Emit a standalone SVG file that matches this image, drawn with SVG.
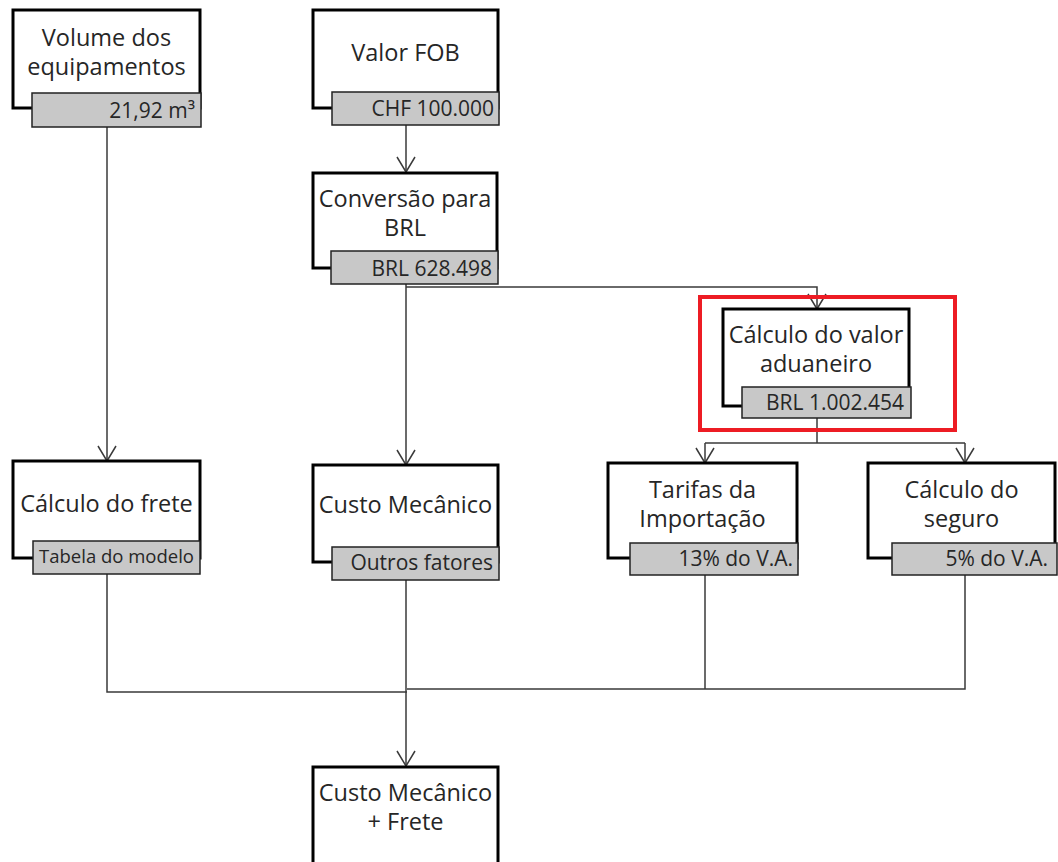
<svg xmlns="http://www.w3.org/2000/svg" width="1058" height="862" viewBox="0 0 1058 862">
<defs>
<style>
.box{fill:#fff;stroke:#000;stroke-width:3}
.tag{fill:#c8c8c8;stroke:#222;stroke-width:1.5}
.t{font-family:"Open Sans","Liberation Sans",sans-serif;font-size:23.5px;fill:#262626;text-anchor:middle}
.v{font-family:"Open Sans","Liberation Sans",sans-serif;font-size:21px;fill:#262626;text-anchor:end}
.s{font-size:18.5px}
.c{fill:none;stroke:#3a3a3a;stroke-width:1.5}
</style>
</defs>
<rect width="1058" height="862" fill="#fff"/>
<g id="connectors">
<path class="c" d="M406,125 V172"/>
<path class="c" d="M107,127 V461"/>
<path class="c" d="M406,284 V465"/>
<path class="c" d="M406,287 H817 V309"/>
<path class="c" d="M817,418 V443"/>
<path class="c" d="M705,443 H965"/>
<path class="c" d="M705,443 V463"/>
<path class="c" d="M965,443 V463"/>
<path class="c" d="M107,574 V692 H407"/>
<path class="c" d="M406,580 V766"/>
<path class="c" d="M705,575 V689"/>
<path class="c" d="M965,575 V689 H407"/>
<g class="c">
<path d="M397,157 L406,172 L415,157"/>
<path d="M98,446 L107,461 L116,446"/>
<path d="M397,450 L406,465 L415,450"/>
<path d="M808,294 L817,309 L826,294"/>
<path d="M696,448 L705,463 L714,448"/>
<path d="M956,448 L965,463 L974,448"/>
<path d="M397,751 L406,766 L415,751"/>
</g>
</g>
<g id="n-volume">
<rect class="box" x="13" y="10" width="187" height="98"/>
<text class="t" x="106.5" y="46">Volume dos</text>
<text class="t" x="106.5" y="75">equipamentos</text>
<rect class="tag" x="32" y="93" width="169" height="34"/>
<text class="v" x="195" y="118">21,92 m³</text>
</g>
<g id="n-fob">
<rect class="box" x="313" y="10" width="185" height="98"/>
<text class="t" x="405.5" y="61">Valor FOB</text>
<rect class="tag" x="332" y="92" width="167" height="33"/>
<text class="v" x="494" y="116">CHF 100.000</text>
</g>
<g id="n-conv">
<rect class="box" x="313" y="173" width="184" height="95"/>
<text class="t" x="405" y="207">Conversão para</text>
<text class="t" x="405" y="236">BRL</text>
<rect class="tag" x="331" y="251" width="167" height="33"/>
<text class="v" x="492" y="276">BRL 628.498</text>
</g>
<g id="n-valor">
<rect x="700" y="297" width="255" height="133" fill="none" stroke="#ed1c24" stroke-width="4"/>
<rect class="box" x="723" y="309" width="186" height="97"/>
<text class="t" x="816" y="343">Cálculo do valor</text>
<text class="t" x="816" y="372">aduaneiro</text>
<rect class="tag" x="742" y="387" width="169" height="31"/>
<text class="v" x="904" y="410">BRL 1.002.454</text>
</g>
<g id="n-frete">
<rect class="box" x="13" y="461" width="187" height="97"/>
<text class="t" x="106.5" y="512">Cálculo do frete</text>
<rect class="tag" x="33" y="541" width="167" height="33"/>
<text class="v s" x="194" y="563">Tabela do modelo</text>
</g>
<g id="n-custo">
<rect class="box" x="313" y="465" width="185" height="97"/>
<text class="t" x="405.5" y="513">Custo Mecânico</text>
<rect class="tag" x="332" y="547" width="167" height="33"/>
<text class="v" x="493" y="570">Outros fatores</text>
</g>
<g id="n-tarifas">
<rect class="box" x="608" y="463" width="189" height="95"/>
<text class="t" x="702.5" y="498">Tarifas da</text>
<text class="t" x="702.5" y="527">Importação</text>
<rect class="tag" x="630" y="543" width="168" height="32"/>
<text class="v" x="793" y="566">13% do V.A.</text>
</g>
<g id="n-seguro">
<rect class="box" x="868" y="463" width="187" height="95"/>
<text class="t" x="961.5" y="498">Cálculo do</text>
<text class="t" x="961.5" y="527">seguro</text>
<rect class="tag" x="892" y="543" width="165" height="32"/>
<text class="v" x="1048" y="566">5% do V.A.</text>
</g>
<g id="n-final">
<rect class="box" x="313" y="767" width="185" height="110"/>
<text class="t" x="405.5" y="801">Custo Mecânico</text>
<text class="t" x="405.5" y="830">+ Frete</text>
</g>
</svg>
